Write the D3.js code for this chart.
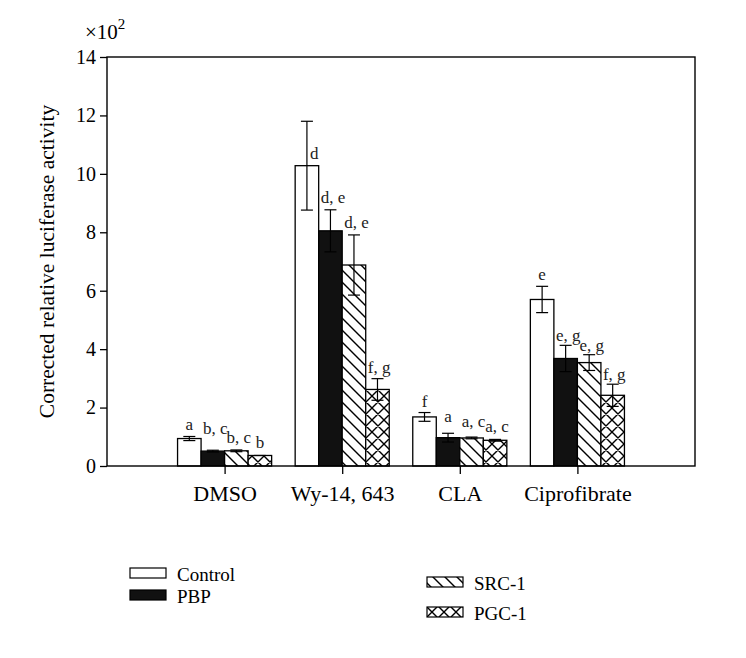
<!DOCTYPE html>
<html><head><meta charset="utf-8">
<script src="https://cdn.jsdelivr.net/npm/d3@7"></script>
<style>body{margin:0;background:#fff}</style>
</head><body>
<svg id="c" width="746" height="658"></svg>
<script>
const categories = ["DMSO", "Wy-14, 643", "CLA", "Ciprofibrate"];
const seriesNames = ["Control", "PBP", "SRC-1", "PGC-1"];
// values (x10^2) per series, per category
const control = [0.94, 10.28, 1.68, 5.70];
const pbp     = [0.51, 8.05, 0.97, 3.68];
const src1    = [0.52, 6.88, 0.96, 3.54];
const pgc1    = [0.36, 2.62, 0.88, 2.42];
const controlErr = [0.07, 1.52, 0.15, 0.45];
const pbpErr     = [0.03, 0.72, 0.15, 0.45];
const src1Err    = [0.03, 1.03, 0.03, 0.27];
const pgc1Err    = [0.00, 0.37, 0.03, 0.38];
const controlLbl = ["a", "d", "f", "e"];
const pbpLbl     = ["b, c", "d, e", "a", "e, g"];
const src1Lbl    = ["b, c", "d, e", "a, c", "e, g"];
const pgc1Lbl    = ["b", "f, g", "a, c", "f, g"];
const yTicks = [0, 2, 4, 6, 8, 10, 12, 14];

const values = [control, pbp, src1, pgc1];
const errs = [controlErr, pbpErr, src1Err, pgc1Err];
const lbls = [controlLbl, pbpLbl, src1Lbl, pgc1Lbl];
// label vertical gap above error-bar top (px), layout tweaks
const lblGap = [[6, -38, 6, 6], [16, 7, 11, 4], [7, 7, 10, 4], [7, 6, 7, 4]];

const font = "'Liberation Serif','DejaVu Serif',serif";
const svg = d3.select("#c");
const L = 107, R = 695, T = 57, B = 466;
const x = d3.scaleLinear().domain([0, 5]).range([L, R]);
const y = d3.scaleLinear().domain([0, 14]).range([B, T]);
const groupW = (x(2) - x(1)) * 0.8;
const bx = d3.scaleBand().domain(d3.range(4)).range([-groupW / 2, groupW / 2]).padding(0);

const defs = svg.append("defs");
const p1 = defs.append("pattern").attr("id", "src").attr("patternUnits", "userSpaceOnUse").attr("width", 12).attr("height", 12);
p1.append("rect").attr("width", 12).attr("height", 12).attr("fill", "#fff");
p1.append("path").attr("d", "M-3,-3L15,15M-3,9L3,15M9,-3L15,3").attr("stroke", "#000").attr("stroke-width", 1.4);
const p2 = defs.append("pattern").attr("id", "pgc").attr("patternUnits", "userSpaceOnUse").attr("width", 12).attr("height", 12);
p2.append("rect").attr("width", 12).attr("height", 12).attr("fill", "#fff");
p2.append("path").attr("d", "M-3,-3L15,15M-3,9L3,15M9,-3L15,3M-3,15L15,-3M-3,3L3,-3M9,15L15,9").attr("stroke", "#000").attr("stroke-width", 1.4);
const fills = ["#fff", "#111", "url(#src)", "url(#pgc)"];

// bars
values.forEach((vals, s) => {
  vals.forEach((v, c) => {
    const x0 = x(c + 1) + bx(s);
    svg.append("rect").attr("x", x0).attr("y", y(v)).attr("width", bx.bandwidth()).attr("height", y(0) - y(v))
      .attr("fill", fills[s]).attr("stroke", "#000").attr("stroke-width", 1.3);
  });
});
// error bars and labels
values.forEach((vals, s) => {
  vals.forEach((v, c) => {
    const cx = x(c + 1) + bx(s) + bx.bandwidth() / 2;
    const e = errs[s][c];
    const g = svg.append("g").attr("stroke", "#000").attr("stroke-width", 1.2);
    if (e > 0) {
      g.append("line").attr("x1", cx).attr("x2", cx).attr("y1", y(v + e)).attr("y2", y(v - e));
      [v + e, v - e].forEach(t => g.append("line").attr("x1", cx - 6).attr("x2", cx + 6).attr("y1", y(t)).attr("y2", y(t)));
    } else {
      g.append("line").attr("x1", cx - 6).attr("x2", cx + 6).attr("y1", y(v)).attr("y2", y(v));
    }
    const txt = lbls[s][c];
    const single = txt.length === 1;
    const gap = lblGap[s][c];
    const t = svg.append("text").text(txt).attr("font-family", font).attr("font-size", 17).attr("fill", "#222")
      .attr("y", y(v + e) - gap);
    if (gap < 0) t.attr("x", cx + 3).attr("text-anchor", "start");
    else if (single) t.attr("x", cx).attr("text-anchor", "middle");
    else t.attr("x", x(c + 1) + bx(s) + 2).attr("text-anchor", "start");
  });
});

// frame
svg.append("rect").attr("x", L).attr("y", T).attr("width", R - L).attr("height", B - T)
  .attr("fill", "none").attr("stroke", "#000").attr("stroke-width", 1.4);

// y axis
const ya = svg.append("g").attr("transform", `translate(${L},0)`)
  .call(d3.axisLeft(y).tickValues(yTicks).tickSize(7).tickPadding(4).tickFormat(d3.format("d")));
ya.select(".domain").remove();
ya.attr("font-family", font);
ya.selectAll("line").attr("stroke", "#000").attr("stroke-width", 1.3);
ya.selectAll("text").attr("font-family", font).attr("font-size", 20).attr("fill", "#000");

// x axis
const xa = svg.append("g").attr("transform", `translate(0,${B})`)
  .call(d3.axisBottom(x).tickValues([1, 2, 3, 4]).tickSize(8).tickPadding(11).tickFormat(d => categories[d - 1]));
xa.select(".domain").remove();
xa.attr("font-family", font);
xa.selectAll("line").attr("stroke", "#000").attr("stroke-width", 1.3);
xa.selectAll("text").attr("font-family", font).attr("font-size", 22).attr("fill", "#000");

// y label
svg.append("text").attr("transform", `translate(54,${(T + B) / 2}) rotate(-90)`).attr("text-anchor", "middle")
  .attr("font-family", font).attr("font-size", 21.5).text("Corrected relative luciferase activity");

// multiplier
const m = svg.append("text").attr("x", 85).attr("y", 39).attr("font-family", font).attr("font-size", 21);
m.append("tspan").text("×10");
m.append("tspan").attr("dy", -10).attr("font-size", 15).text("2");

// legend
const legPos = [[130, 568], [130, 590], [427, 577], [427, 607]];
seriesNames.forEach((n, s) => {
  const [lx, ly] = legPos[s];
  svg.append("rect").attr("x", lx).attr("y", ly).attr("width", 36).attr("height", 10)
    .attr("fill", fills[s]).attr("stroke", "#000").attr("stroke-width", 1.2);
  svg.append("text").attr("x", lx + 47).attr("y", ly + 13).attr("font-family", font).attr("font-size", 19).text(n);
});
</script>
</body></html>
